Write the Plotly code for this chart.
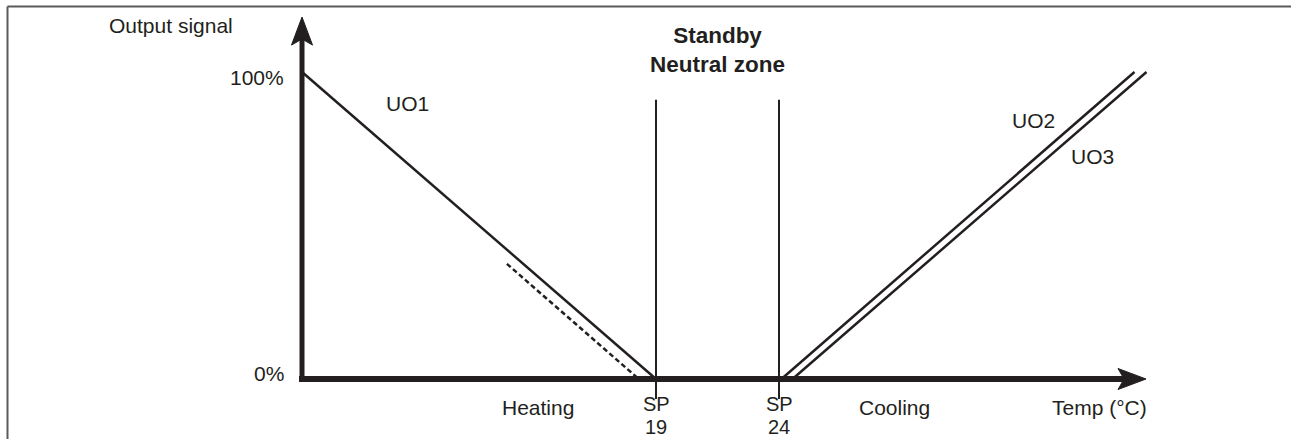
import plotly.graph_objects as go

# ---------------- data (schematic values) ----------------
setpoints = [19, 24]                 # SP heating / cooling (°C)
setpoint_labels = ["SP", "SP"]
setpoint_values = ["19", "24"]
uo1_temp = [4.61, 19.0]              # heating ramp
uo1_out = [100, 0]
uo1_alt_temp = [12.94, 18.3]         # dashed alternative heating ramp
uo1_alt_out = [37.5, 0]
uo2_temp = [24.1, 38.45]             # cooling ramps
uo2_out = [0, 100]
uo3_temp = [24.55, 38.94]
uo3_out = [0, 100]
sp_line_out = [-6.5, 91]             # vertical extent of set-point lines
y_ticks = [0, 100]
y_tick_labels = ["0%", "100%"]
axis_origin_temp = 4.61
axis_end_temp = 38.92
axis_end_out = 117.9

# ---------------- layout calibration ----------------
W, H = 1291, 439
PX_PER_DEG = 24.6
PX_PER_PCT = 3.07
SP_PX = 656          # pixel of SP 19
ZERO_PX = 379        # pixel row of 0 %
x_range = [setpoints[0] - SP_PX / PX_PER_DEG, setpoints[0] + (W - SP_PX) / PX_PER_DEG]
y_range = [-(H - ZERO_PX) / PX_PER_PCT, ZERO_PX / PX_PER_PCT]

def dx(px):
    return px / PX_PER_DEG

def dy(px):
    return px / PX_PER_PCT

INK = "#231f20"
FONT = "Liberation Sans, Arial, Helvetica, sans-serif"

fig = go.Figure()

def line(xs, ys, width=2.5, dash=None, color=INK):
    fig.add_trace(go.Scatter(x=xs, y=ys, mode="lines", hoverinfo="skip",
                             line=dict(color=color, width=width, dash=dash)))

# axes
line([axis_origin_temp - dx(3), axis_end_temp - dx(20)], [0, 0], width=6)
line([axis_origin_temp, axis_origin_temp], [-dy(3), axis_end_out - dy(20)], width=5)

# arrowheads (computed from axis ends)
L, HW, N = 28, 10.5, 6
fig.add_trace(go.Scatter(
    x=[axis_end_temp, axis_end_temp - dx(L), axis_end_temp - dx(L - N), axis_end_temp - dx(L), axis_end_temp],
    y=[0, dy(HW), 0, -dy(HW), 0], mode="lines", fill="toself", fillcolor=INK,
    line=dict(color=INK, width=1), hoverinfo="skip"))
fig.add_trace(go.Scatter(
    x=[axis_origin_temp, axis_origin_temp - dx(HW), axis_origin_temp, axis_origin_temp + dx(HW), axis_origin_temp],
    y=[axis_end_out, axis_end_out - dy(L), axis_end_out - dy(L - N), axis_end_out - dy(L), axis_end_out],
    mode="lines", fill="toself", fillcolor=INK, line=dict(color=INK, width=1), hoverinfo="skip"))

# set-point lines
for sp in setpoints:
    line([sp, sp], sp_line_out, width=2)

# ramps
line(uo1_temp, uo1_out, width=2.5)
line(uo1_alt_temp, uo1_alt_out, width=2.5, dash="5px,3px")
line(uo2_temp, uo2_out, width=2.5)
line(uo3_temp, uo3_out, width=2.5)

ann = []
def text(x, y, s, size=21, bold=False, xanchor="center", pad=1):
    ann.append(dict(x=x, y=y, xref="x", yref="y", text=f"<b>{s}</b>" if bold else s,
                    showarrow=False, xanchor=xanchor, yanchor="middle", borderpad=pad,
                    font=dict(family=FONT, size=size, color=INK)))

# tick labels
for v, lab in zip(y_ticks, y_tick_labels):
    text(axis_origin_temp - dx(16), v - dy(-6 if v == 0 else 5), lab, xanchor="right")
text(axis_origin_temp - dx(131), axis_end_out - dy(8), "Output signal")
for sp, lab, val in zip(setpoints, setpoint_labels, setpoint_values):
    text(sp, -dy(25), lab, size=20, pad=0)
    text(sp, -dy(48), val, size=20, pad=0)
text(setpoints[0] - dx(118), -dy(28), "Heating")
text(setpoints[1] + dx(115), -dy(28), "Cooling")
text(axis_end_temp - dx(47), -dy(28), "Temp (°C)")
text((setpoints[0] + setpoints[1]) / 2, dy(ZERO_PX - 50), "Standby<br>Neutral zone", size=22.5, bold=True)
text(axis_origin_temp + dx(105), dy(ZERO_PX - 103), "UO1")
text(uo2_temp[0] + dx(252), dy(ZERO_PX - 120), "UO2")
text(uo3_temp[0] + dx(300), dy(ZERO_PX - 156), "UO3")

# frame (top and left border)
shapes = [
    dict(type="line", xref="paper", yref="paper", x0=7.5 / W, x1=1, y0=1 - 6.5 / H, y1=1 - 6.5 / H,
         line=dict(color="#5a5a5a", width=2)),
    dict(type="line", xref="paper", yref="paper", x0=7.5 / W, x1=7.5 / W, y0=0, y1=1 - 6.5 / H,
         line=dict(color="#5a5a5a", width=2)),
]

fig.update_layout(
    width=W, height=H, margin=dict(l=0, r=0, t=0, b=0),
    paper_bgcolor="white", plot_bgcolor="white", showlegend=False,
    xaxis=dict(range=x_range, visible=False, fixedrange=True),
    yaxis=dict(range=y_range, visible=False, fixedrange=True),
    annotations=ann, shapes=shapes,
)
fig.write_html("out.html", config={"displayModeBar": False},
               post_script="document.body.style.margin='0';document.body.style.overflow='hidden';")
